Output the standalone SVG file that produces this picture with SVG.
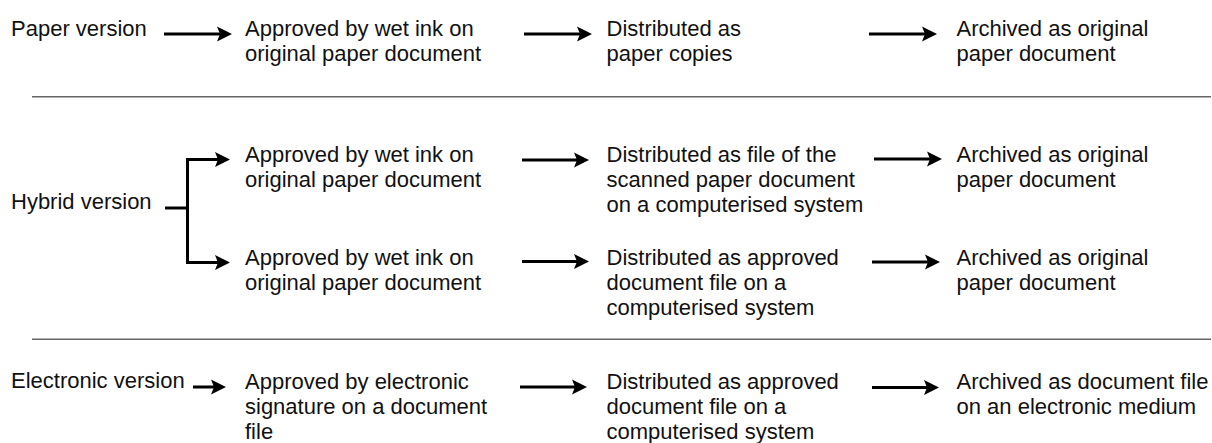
<svg xmlns="http://www.w3.org/2000/svg" width="1212" height="443" viewBox="0 0 1212 443">
  <style>
    text { font-family: "Liberation Sans", Arial, sans-serif; font-size: 22px; fill: #111; }
    .conn { fill: none; stroke: #000; stroke-width: 3; }
    .sep { stroke: #666; stroke-width: 1.6; }
  </style>
  <defs>
    <marker id="head" markerUnits="userSpaceOnUse" viewBox="0 -8 16 16" refX="3" refY="0" markerWidth="16" markerHeight="16" orient="auto">
      <path d="M0,-7.5 L15,0 L0,7.5 L3,0 z" fill="#000"/>
    </marker>
  </defs>
  <rect width="1212" height="443" fill="#fff"/>

  <!-- section dividers -->
  <g id="dividers">
    <line class="sep" x1="32" y1="96.7" x2="1211" y2="96.7"/>
    <line class="sep" x1="32" y1="339.3" x2="1211" y2="339.3"/>
  </g>

  <!-- connectors -->
  <g id="connectors">
    <path class="conn" d="M164,34 H220" marker-end="url(#head)"/>
    <path class="conn" d="M524,34 H580" marker-end="url(#head)"/>
    <path class="conn" d="M869,34 H925" marker-end="url(#head)"/>

    <path class="conn" d="M165,208 H187.5"/>
    <path class="conn" d="M187.5,208 V159.5 H218" marker-end="url(#head)"/>
    <path class="conn" d="M187.5,208 V262.5 H218" marker-end="url(#head)"/>
    <path class="conn" d="M522,160 H577" marker-end="url(#head)"/>
    <path class="conn" d="M522,261.5 H577" marker-end="url(#head)"/>
    <path class="conn" d="M874,159 H930" marker-end="url(#head)"/>
    <path class="conn" d="M872,262 H928" marker-end="url(#head)"/>

    <path class="conn" d="M193,387 H214" marker-end="url(#head)"/>
    <path class="conn" d="M520,387 H575" marker-end="url(#head)"/>
    <path class="conn" d="M872,387.5 H927" marker-end="url(#head)"/>
  </g>

  <!-- paper version -->
  <g id="paper-label"><text x="11" y="36">Paper version</text></g>
  <g id="paper-approve"><text x="245" y="36">Approved by wet ink on</text><text x="245" y="61">original paper document</text></g>
  <g id="paper-distribute"><text x="606.5" y="36">Distributed as</text><text x="606.5" y="61">paper copies</text></g>
  <g id="paper-archive"><text x="956.5" y="36">Archived as original</text><text x="956.5" y="61">paper document</text></g>

  <!-- hybrid version -->
  <g id="hybrid-label"><text x="11" y="209">Hybrid version</text></g>
  <g id="hybrid-approve-1"><text x="245" y="162">Approved by wet ink on</text><text x="245" y="187">original paper document</text></g>
  <g id="hybrid-distribute-1"><text x="606.5" y="162">Distributed as file of the</text><text x="606.5" y="187">scanned paper document</text><text x="606.5" y="212">on a computerised system</text></g>
  <g id="hybrid-archive-1"><text x="956.5" y="162">Archived as original</text><text x="956.5" y="187">paper document</text></g>
  <g id="hybrid-approve-2"><text x="245" y="265">Approved by wet ink on</text><text x="245" y="290">original paper document</text></g>
  <g id="hybrid-distribute-2"><text x="606.5" y="265">Distributed as approved</text><text x="606.5" y="290">document file on a</text><text x="606.5" y="315">computerised system</text></g>
  <g id="hybrid-archive-2"><text x="956.5" y="265">Archived as original</text><text x="956.5" y="290">paper document</text></g>

  <!-- electronic version -->
  <g id="electronic-label"><text x="11" y="388">Electronic version</text></g>
  <g id="electronic-approve"><text x="245" y="389">Approved by electronic</text><text x="245" y="414">signature on a document</text><text x="245" y="439">file</text></g>
  <g id="electronic-distribute"><text x="606.5" y="389">Distributed as approved</text><text x="606.5" y="414">document file on a</text><text x="606.5" y="439">computerised system</text></g>
  <g id="electronic-archive"><text x="956.5" y="389">Archived as document file</text><text x="956.5" y="414">on an electronic medium</text></g>
</svg>
